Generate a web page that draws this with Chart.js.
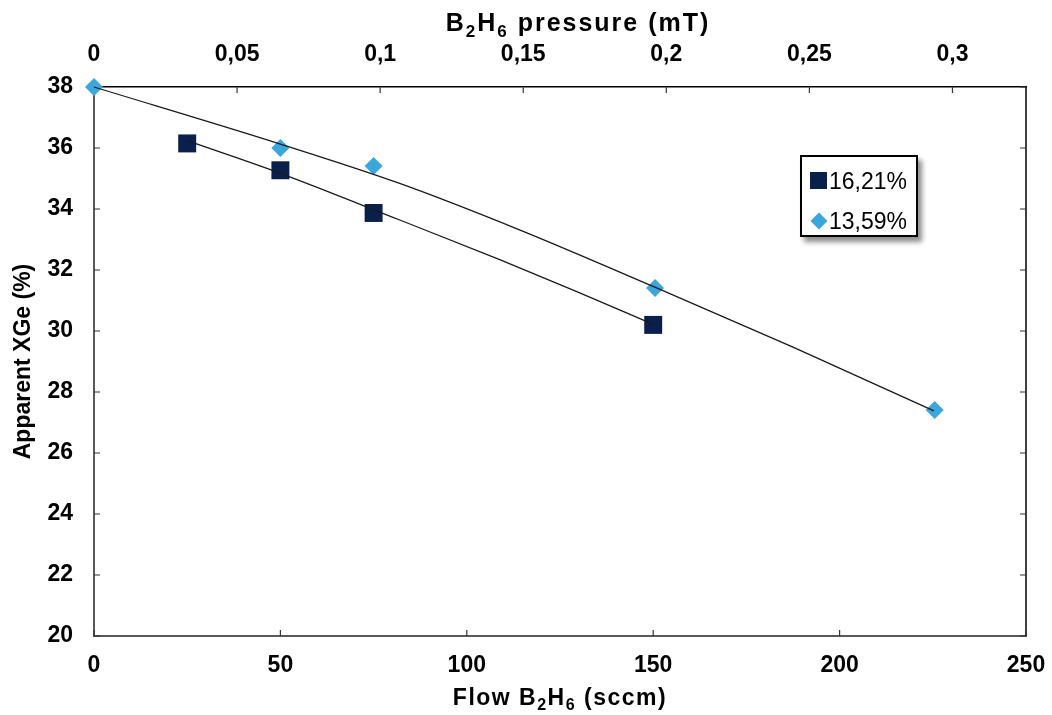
<!DOCTYPE html>
<html>
<head>
<meta charset="utf-8">
<script src="https://cdn.jsdelivr.net/npm/chart.js@4"></script>
<style>
  body { margin: 0; background: #fff; }
  #wrap { position: relative; width: 1052px; height: 715px; }
  #legenda {
    position: absolute; left: 800px; top: 155px; width: 114px; height: 78px;
    border: 2px solid #000; background: #fff;
    box-shadow: 4px 5px 5px rgba(0,0,0,0.45);
    font-family: "Liberation Sans", Arial, sans-serif; font-size: 23px; color: #000;
  }
  .item { position: absolute; left: 8px; height: 24px; line-height: 24px; white-space: nowrap; }
  .item span { display: inline-block; vertical-align: middle; }
  .quadrado { width: 17px; height: 17px; background: #0b1f4d; margin-right: 2px; }
  .losango { width: 12px; height: 12px; background: #3aa6dc; transform: rotate(45deg); margin: 0 4px 0 3px; }
</style>
</head>
<body>
<div id="wrap">
  <canvas id="grafico" width="1052" height="715"></canvas>
  <div id="legenda">
    <div class="item" style="top:10px"><span class="quadrado"></span><span id="lbl1"></span></div>
    <div class="item" style="top:50px"><span class="losango"></span><span id="lbl2"></span></div>
  </div>
</div>
<script>
// Dados
const nomesSeries = ['16,21%', '13,59%'];

const fluxo1621 = [25, 50, 75, 150];
const xge1621 = [36.15, 35.27, 33.87, 30.2];

const fluxo1359 = [0, 50, 75, 150.5, 225.5];
const xge1359 = [38.0, 36.0, 35.41, 31.41, 27.41];

// linhas de tendência
const tendFluxo1621 = [25, 50, 82, 109, 129.5, 150];
const tendXge1621 = [36.24, 35.17, 33.64, 32.33, 31.29, 30.22];

const tendFluxo1359 = [0, 50, 82, 114.3, 150.6, 187.5, 225.3];
const tendXge1359 = [38.0, 36.13, 34.84, 33.31, 31.43, 29.47, 27.38];

// ticks
const ticksFluxo = [0, 50, 100, 150, 200, 250];
const ticksPressao = [0, 0.05, 0.1, 0.15, 0.2, 0.25, 0.3];
const ticksXge = [20, 22, 24, 26, 28, 30, 32, 34, 36, 38];
const maxPressao = 0.3257;

// títulos com subscrito: [texto, subscrito?]
const tituloFluxo = [['Flow B', 0], ['2', 1], ['H', 0], ['6', 1], [' (sccm)', 0]];
const tituloPressao = [['B', 0], ['2', 1], ['H', 0], ['6', 1], [' pressure (mT)', 0]];
const tituloXge = 'Apparent XGe (%)';

const fonte = 'Liberation Sans, Arial, sans-serif';

document.getElementById('lbl1').textContent = nomesSeries[0];
document.getElementById('lbl2').textContent = nomesSeries[1];

function pontos(xs, ys) {
    return xs.map((x, i) => ({ x: x, y: ys[i] }));
}

function virgula(v) {
    return (Math.round(v * 1000) / 1000).toString().replace('.', ',');
}

function desenharTitulo(ctx, partes, cx, base, tam, esp) {
    ctx.save();
    ctx.fillStyle = '#000';
    ctx.textBaseline = 'alphabetic';
    ctx.textAlign = 'left';
    ctx.letterSpacing = esp + 'px';
    const fontePara = sub => 'bold ' + (sub ? Math.round(tam * 0.68) : tam) + 'px ' + fonte;
    let total = 0;
    partes.forEach(([t, sub]) => { ctx.font = fontePara(sub); total += ctx.measureText(t).width; });
    let x = cx - total / 2;
    partes.forEach(([t, sub]) => {
        ctx.font = fontePara(sub);
        ctx.fillText(t, x, base + (sub ? tam * 0.22 : 0));
        x += ctx.measureText(t).width;
    });
    ctx.restore();
}

// ticks para dentro, borda da direita e títulos dos eixos x
const extras = {
    id: 'extras',
    beforeDatasetsDraw(chart) {
        const ctx = chart.ctx;
        const a = chart.chartArea;
        const sx = chart.scales.x, sx2 = chart.scales.x2, sy = chart.scales.y;
        const L = 6;
        ctx.save();
        ctx.strokeStyle = '#000';
        ctx.lineWidth = 1.5;
        ctx.beginPath();
        ctx.moveTo(a.right, a.top);
        ctx.lineTo(a.right, a.bottom);
        ctx.stroke();

        ctx.lineWidth = 1.2;
        ctx.strokeStyle = '#333';
        ctx.beginPath();
        ticksFluxo.forEach(v => {
            const p = sx.getPixelForValue(v);
            ctx.moveTo(p, a.bottom); ctx.lineTo(p, a.bottom - L);
        });
        ticksPressao.forEach(v => {
            const p = sx2.getPixelForValue(v);
            ctx.moveTo(p, a.top); ctx.lineTo(p, a.top + L);
        });
        ticksXge.forEach(v => {
            const p = sy.getPixelForValue(v);
            ctx.moveTo(a.left, p); ctx.lineTo(a.left + L, p);
            ctx.moveTo(a.right, p); ctx.lineTo(a.right - L, p);
        });
        ctx.stroke();
        ctx.restore();

        const meio = (a.left + a.right) / 2;
        desenharTitulo(ctx, tituloFluxo, meio, 705, 23, 1.5);
        desenharTitulo(ctx, tituloPressao, meio + 18, 31, 25, 2);
    }
};

const ctx = document.getElementById('grafico');
new Chart(ctx, {
    data: {
        datasets: [
            {
                type: 'line',
                label: 'tend1621',
                data: pontos(tendFluxo1621, tendXge1621),
                borderColor: '#1a1a1a',
                borderWidth: 1.3,
                pointRadius: 0,
                cubicInterpolationMode: 'monotone',
                fill: false,
                clip: false,
                order: 0
            },
            {
                type: 'line',
                label: 'tend1359',
                data: pontos(tendFluxo1359, tendXge1359),
                borderColor: '#1a1a1a',
                borderWidth: 1.3,
                pointRadius: 0,
                cubicInterpolationMode: 'monotone',
                fill: false,
                clip: false,
                order: 0
            },
            {
                type: 'scatter',
                label: nomesSeries[0],
                data: pontos(fluxo1621, xge1621),
                pointStyle: 'rect',
                pointRadius: 12.7,
                backgroundColor: '#0b1f4d',
                borderColor: '#0b1f4d',
                borderWidth: 0,
                clip: false,
                order: 1
            },
            {
                type: 'scatter',
                label: nomesSeries[1],
                data: pontos(fluxo1359, xge1359),
                pointStyle: 'rectRot',
                pointRadius: 9,
                backgroundColor: '#3aa6dc',
                borderColor: '#3aa6dc',
                borderWidth: 0,
                clip: false,
                order: 1
            }
        ]
    },
    options: {
        responsive: false,
        animation: false,
        layout: { padding: { left: 0, right: 26, top: 0, bottom: 0 } },
        scales: {
            x: {
                type: 'linear',
                position: 'bottom',
                min: 0,
                max: 250,
                afterBuildTicks: s => { s.ticks = ticksFluxo.map(v => ({ value: v })); },
                afterFit: s => { s.height = 79; s.paddingRight = 0; s.paddingLeft = 0; },
                grid: { display: false, drawTicks: false },
                border: { display: true, color: '#595959', width: 2 },
                ticks: { color: '#000', padding: 16, font: { family: fonte, size: 23, weight: 'bold' } },
                title: { display: false }
            },
            x2: {
                type: 'linear',
                position: 'top',
                min: 0,
                max: maxPressao,
                afterBuildTicks: s => { s.ticks = ticksPressao.map(v => ({ value: v })); },
                afterFit: s => { s.height = 87; s.paddingRight = 0; s.paddingLeft = 0; },
                grid: { display: false, drawTicks: false },
                border: { display: true, color: '#000', width: 1.5 },
                ticks: {
                    color: '#000', padding: 19,
                    font: { family: fonte, size: 23, weight: 'bold' },
                    callback: v => virgula(v)
                },
                title: { display: false }
            },
            y: {
                type: 'linear',
                position: 'left',
                min: 20,
                max: 38,
                afterBuildTicks: s => { s.ticks = ticksXge.map(v => ({ value: v })); },
                afterFit: s => { s.width = 94; s.paddingTop = 0; s.paddingBottom = 0; },
                grid: { display: false, drawTicks: false },
                border: { display: true, color: '#595959', width: 2 },
                ticks: { color: '#000', padding: 21, font: { family: fonte, size: 23, weight: 'bold' } },
                title: {
                    display: true,
                    text: tituloXge,
                    color: '#000',
                    padding: { top: 12, bottom: 0 },
                    font: { family: fonte, size: 23, weight: 'bold', lineHeight: 1 }
                }
            }
        },
        plugins: {
            legend: { display: false },
            tooltip: { enabled: false }
        }
    },
    plugins: [extras]
});
</script>
</body>
</html>
